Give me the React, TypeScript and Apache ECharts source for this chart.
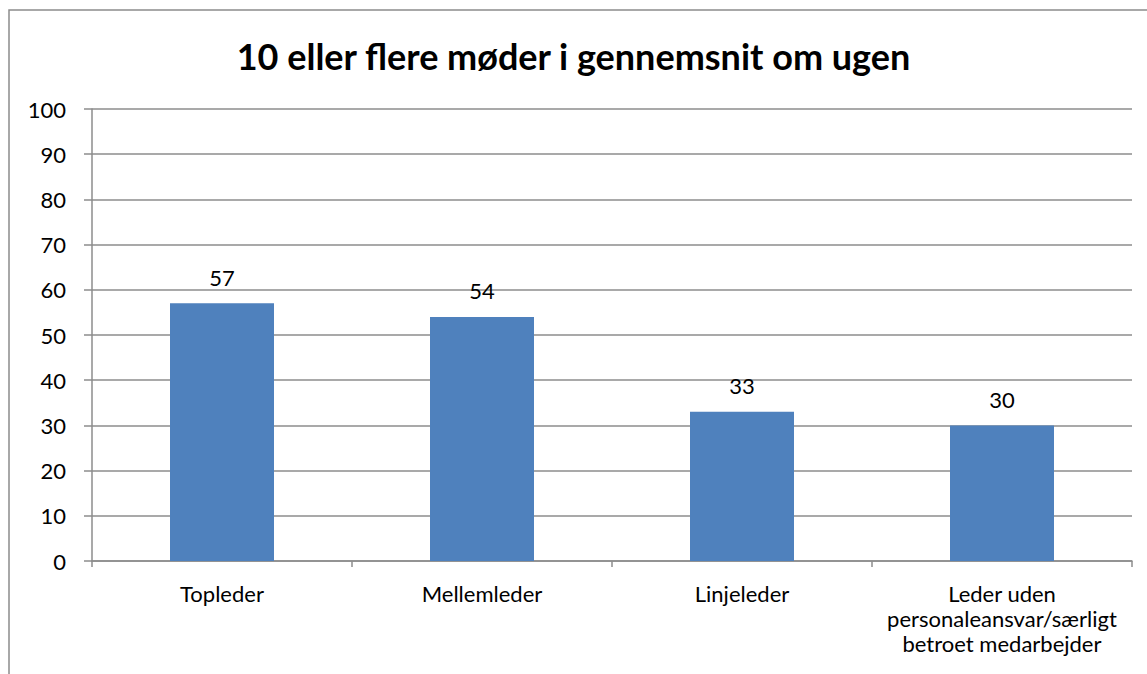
import React, { useEffect, useRef } from "react";
import * as echarts from "echarts";

const categories = [
  "Topleder",
  "Mellemleder",
  "Linjeleder",
  "Leder uden\npersonaleansvar/særligt\nbetroet medarbejder",
];
const values = [57, 54, 33, 30];
const titleText = "10 eller flere møder i gennemsnit om ugen";

export default function App() {
  const ref = useRef<HTMLDivElement>(null);
  useEffect(() => {
    if (!ref.current) return;
    const chart = echarts.init(ref.current, undefined, { renderer: "svg" });
    const font = "Lato, 'Open Sans', sans-serif";
    chart.setOption({
      animation: false,
      backgroundColor: "#ffffff",
      textStyle: { fontFamily: font },
      title: {
        text: titleText,
        left: "center",
        top: 33,
        textStyle: { fontSize: 36, fontWeight: "bold", color: "#000", fontFamily: font },
      },
      graphic: [
        {
          type: "polyline",
          shape: { points: [[9, 700], [9, 10], [1160, 10]] },
          style: { stroke: "#8c8c8c", lineWidth: 1.5, fill: "none" },
          silent: true,
        },
      ],
      grid: { left: 92, right: 15, top: 109, bottom: 113, containLabel: false },
      xAxis: {
        type: "category",
        data: categories,
        axisLine: { show: true, lineStyle: { color: "#8c8c8c", width: 1.5 } },
        axisTick: { show: true, length: 6, lineStyle: { color: "#8c8c8c", width: 1.5 } },
        axisLabel: { fontSize: 22, lineHeight: 25, color: "#000", margin: 20, interval: 0, fontFamily: font },
      },
      yAxis: {
        type: "value",
        min: 0,
        max: 100,
        interval: 10,
        axisLine: { show: true, lineStyle: { color: "#8c8c8c", width: 1.5 } },
        axisTick: { show: true, inside: false, length: 8, lineStyle: { color: "#8c8c8c", width: 1.5 } },
        splitLine: { show: true, lineStyle: { color: "#8c8c8c", width: 1.5 } },
        axisLabel: { fontSize: 22, color: "#000", margin: 26, fontFamily: font },
      },
      series: [
        {
          type: "bar",
          data: values,
          barWidth: "40%",
          itemStyle: { color: "#4f81bd" },
          label: {
            show: true,
            position: "top",
            distance: 15,
            fontSize: 22,
            color: "#000",
            fontFamily: font,
          },
        },
      ],
    });
    return () => chart.dispose();
  }, []);
  return (
    <div
      ref={ref}
      style={{ position: "fixed", left: 0, top: 0, width: 1147, height: 674 }}
    />
  );
}
